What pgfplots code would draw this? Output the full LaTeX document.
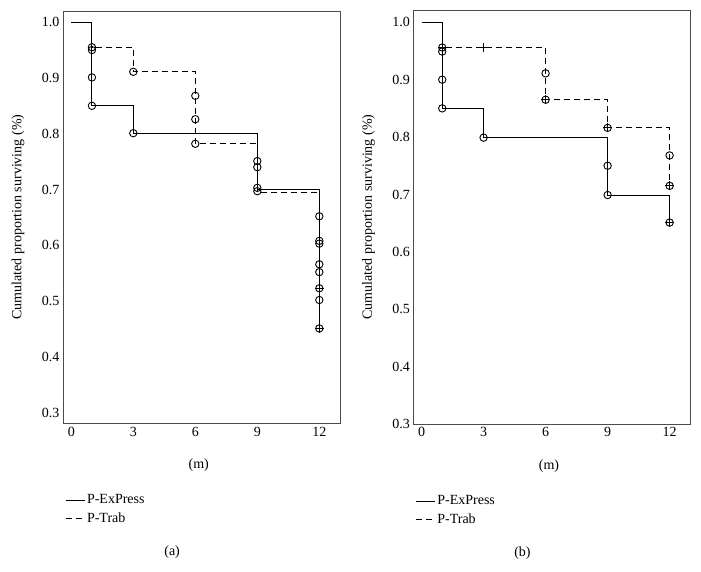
\documentclass[border=0pt]{standalone}
\usepackage{fontspec}
\setmainfont{Liberation Serif}
\usepackage{pgfplots}
\pgfplotsset{compat=1.18}
\newcommand{\ff}{\fontsize{14}{16}\selectfont}
\pgfplotsset{
  kmstyle/.style={
    scale only axis,
    width=277pt,
    xmin=-0.4, xmax=13,
    xtick={0,3,6,9,12},
    ytick={0.3,0.4,0.5,0.6,0.7,0.8,0.9,1.0},
    yticklabel style={/pgf/number format/.cd,fixed,fixed zerofill,precision=1},
    /pgf/number format/assume math mode=true,
    tick style={draw=none},
    ticklabel style={font=\ff},
    axis line style={black!70, line width=0.8pt},
    xlabel={(m)},
    ylabel={Cumulated proportion surviving (\%)},
    every axis x label/.style={at={(axis description cs:0.49,-0.102)}, anchor=center, font=\ff},
    every axis y label/.style={at={(axis description cs:-0.162,0.5)}, anchor=center, rotate=90, font=\ff},
    clip=false,
    legend style={at={(axis description cs:0.007,-0.168)}, anchor=north west, draw=none, fill=none,
      font=\ff, inner sep=0pt, row sep=3pt, cells={anchor=west}},
    legend image code/.code={\draw[#1] (0pt,0pt) -- (19pt,0pt);},
    legend cell align=left,
  },
  km/.style={black, line width=0.9pt, mark=none},
  kmd/.style={black, line width=0.9pt, mark=none, dash pattern=on 6pt off 4pt},
  circ/.style={only marks, mark=o, mark size=3.7pt, mark options={black, line width=0.9pt, solid}},
  plus/.style={only marks, mark=+, mark size=4.5pt, mark options={black, line width=0.9pt, solid}},
}
\begin{document}
\begin{tikzpicture}
\path[use as bounding box] (0,0) rectangle (701pt,571pt);
% ---------- (a) ----------
\begin{axis}[kmstyle, height=412.3pt, ymin=0.281, ymax=1.020,
  at={(63pt,147.7pt)}, anchor=south west]
\addplot[km] coordinates {(0,1.0) (1,1.0) (1,0.85) (3,0.85) (3,0.80) (9,0.80) (9,0.70) (12,0.70) (12,0.445)};
\addlegendentry{P-ExPress}
\addplot[kmd] coordinates {(0,1.0) (1,1.0) (1,0.955) (3,0.955) (3,0.911) (6,0.911) (6,0.782) (9,0.782) (9,0.695) (12,0.695) (12,0.50)};
\addlegendentry{P-Trab}
\addplot[circ, forget plot] coordinates {
 (1,0.955) (1,0.950) (1,0.901) (1,0.850)
 (3,0.911) (3,0.801)
 (6,0.868) (6,0.826) (6,0.782)
 (9,0.751) (9,0.740) (9,0.703) (9,0.697)
 (12,0.652) (12,0.608) (12,0.603) (12,0.566) (12,0.552) (12,0.523) (12,0.502) (12,0.451)};
\addplot[plus, forget plot] coordinates {(12,0.523) (12,0.451)};
\node[font=\ff] at (axis description cs:0.394,-0.312) {(a)};
\end{axis}
% ---------- (b) ----------
\begin{axis}[kmstyle, height=414pt, ymin=0.3, ymax=1.0214,
  at={(413.3pt,147pt)}, anchor=south west]
\addplot[km] coordinates {(0,1.0) (1,1.0) (1,0.850) (3,0.850) (3,0.799) (9,0.799) (9,0.699) (12,0.699) (12,0.645)};
\addlegendentry{P-ExPress}
\addplot[kmd] coordinates {(0,1.0) (1,1.0) (1,0.956) (6,0.956) (6,0.865) (9,0.865) (9,0.816) (12,0.816) (12,0.715)};
\addlegendentry{P-Trab}
\addplot[circ, forget plot] coordinates {
 (1,0.956) (1,0.949) (1,0.900) (1,0.850)
 (3,0.799)
 (6,0.911) (6,0.865)
 (9,0.816) (9,0.750) (9,0.699)
 (12,0.768) (12,0.715) (12,0.651)};
\addplot[plus, forget plot] coordinates {(1,0.956) (3,0.956) (6,0.865) (9,0.816) (12,0.715) (12,0.651)};
\node[font=\ff] at (axis description cs:0.394,-0.312) {(b)};
\end{axis}
\end{tikzpicture}
\end{document}
